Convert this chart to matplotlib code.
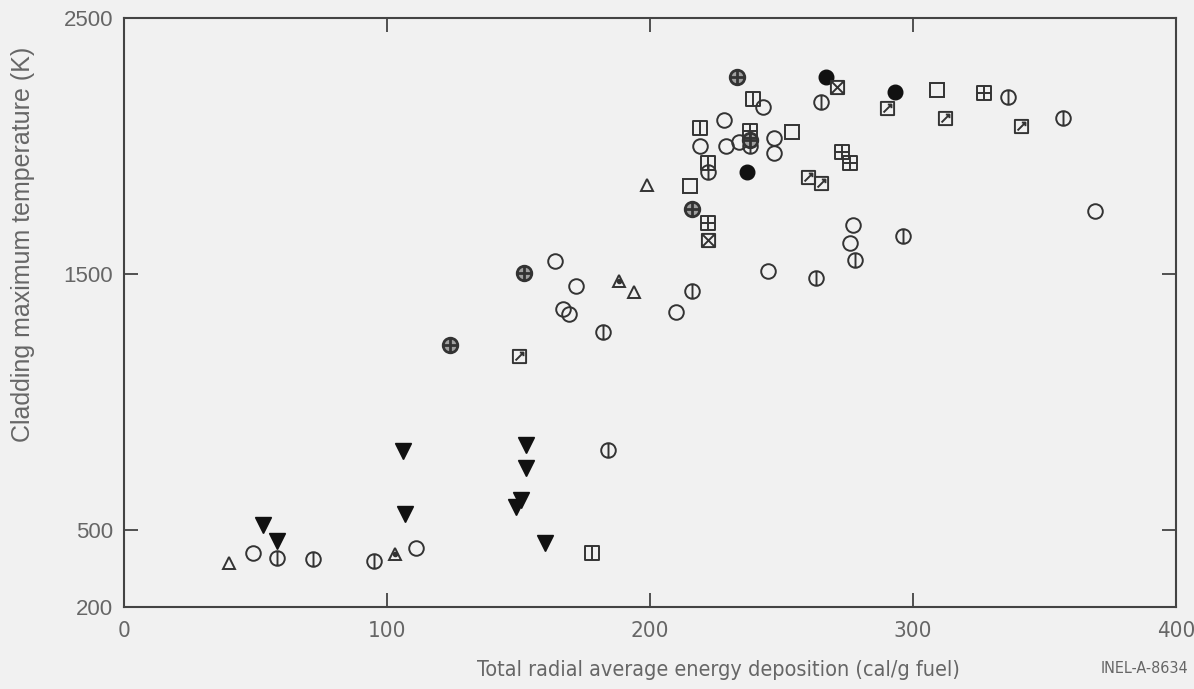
import matplotlib
matplotlib.use('Agg')
import matplotlib.pyplot as plt
from matplotlib.path import Path

# ------------------------------------------------------------
# data (cal/g fuel, K)
# ------------------------------------------------------------
open_circle_x = [49, 111, 164, 172, 167, 169, 210, 245, 276, 277, 369, 228, 229, 234, 219, 243, 247, 247]
open_circle_y = [410, 430, 1550, 1455, 1365, 1345, 1350, 1510, 1620, 1690, 1748, 2100, 2000, 2017, 2000, 2154, 2030, 1974]

vline_circle_x = [58, 72, 95, 184, 182, 216, 263, 278, 265, 222, 336, 357, 296, 238]
vline_circle_y = [390, 386, 381, 813, 1275, 1434, 1484, 1555, 2171, 1900, 2193, 2111, 1650, 2000]

plus_circle_x = [233, 216, 152, 124, 238]
plus_circle_y = [2271, 1754, 1503, 1223, 2024]

filled_circle_x = [267, 293, 237]
filled_circle_y = [2268, 2210, 1900]

open_square_x = [254, 215, 309]
open_square_y = [2056, 1845, 2219]

vline_square_x = [239, 219, 222, 178]
vline_square_y = [2183, 2069, 1933, 412]

plus_square_x = [273, 276, 222, 327, 238]
plus_square_y = [1978, 1933, 1698, 2206, 2059]

cross_square_x = [271, 222]
cross_square_y = [2232, 1633]

arrow_square_x = [290, 312, 341, 260, 265, 150]
arrow_square_y = [2150, 2111, 2078, 1880, 1857, 1180]

open_tri_x = [40, 194, 199]
open_tri_y = [371, 1431, 1848]

dot_tri_x = [103, 188]
dot_tri_y = [407, 1474]

down_tri_x = [53, 58, 106, 107, 153, 153, 151, 149, 160]
down_tri_y = [520, 459, 810, 563, 833, 744, 618, 589, 449]

x_ticks = [0, 100, 200, 300, 400]
y_ticks = [200, 500, 1500, 2500]

# ------------------------------------------------------------
# marker shapes
# ------------------------------------------------------------
M, L, C = Path.MOVETO, Path.LINETO, Path.CLOSEPOLY
circle = Path.unit_circle()
square = Path([(-1, -1), (1, -1), (1, 1), (-1, 1), (-1, -1)], [M, L, L, L, C])
vline = Path([(0, -1), (0, 1)], [M, L])
hline = Path([(-1, 0), (1, 0)], [M, L])
diag1 = Path([(-1, -1), (1, 1)], [M, L])
diag2 = Path([(-1, 1), (1, -1)], [M, L])
arrow = Path([(-0.6, -0.6), (0.6, 0.6), (0.05, 0.6), (0.6, 0.6), (0.6, 0.05)],
             [M, L, M, L, L])

m_vcircle = Path.make_compound_path(circle, vline)
m_pcircle = Path.make_compound_path(circle, vline, hline)
m_vsquare = Path.make_compound_path(square, vline)
m_psquare = Path.make_compound_path(square, vline, hline)
m_xsquare = Path.make_compound_path(square, diag1, diag2)
m_asquare = Path.make_compound_path(square, arrow)

ink = '#333333'
bg = '#f1f1f1'
txt = '#666666'
narrow = dict(family=['DejaVu Sans'], stretch='condensed')

fig = plt.figure(figsize=(11.94, 6.89), dpi=100, facecolor=bg)
ax = fig.add_axes([0.1039, 0.119, 0.8811, 0.855], facecolor=bg)

opts = dict(linestyle='none', color=ink, markeredgewidth=1.4, markerfacecolor='none')
ax.plot(open_circle_x, open_circle_y, marker='o', markersize=10.5, **opts)
ax.plot(vline_circle_x, vline_circle_y, marker=m_vcircle, markersize=10.5, **opts)
ax.plot(plus_circle_x, plus_circle_y, marker=m_pcircle, markersize=10.5,
        linestyle='none', color=ink, markeredgewidth=2.0, markerfacecolor='#a0a0a0')
ax.plot(filled_circle_x, filled_circle_y, marker='o', markersize=10.5,
        linestyle='none', color='#111111', markerfacecolor='#111111')
ax.plot(open_square_x, open_square_y, marker='s', markersize=9.5, **opts)
ax.plot(vline_square_x, vline_square_y, marker=m_vsquare, markersize=9.5, **opts)
ax.plot(plus_square_x, plus_square_y, marker=m_psquare, markersize=9.5, **opts)
ax.plot(cross_square_x, cross_square_y, marker=m_xsquare, markersize=9.5, **opts)
ax.plot(arrow_square_x, arrow_square_y, marker=m_asquare, markersize=9.5, **opts)
ax.plot(open_tri_x, open_tri_y, marker='^', markersize=9, **opts)
ax.plot(dot_tri_x, dot_tri_y, marker='^', markersize=9, **opts)
ax.plot(dot_tri_x, dot_tri_y, marker='o', markersize=3, linestyle='none', color=ink)
ax.plot(down_tri_x, down_tri_y, marker='v', markersize=11, linestyle='none',
        color='#111111', markerfacecolor='#111111')

ax.set_xlim(0, 400)
ax.set_ylim(200, 2500)
ax.set_xticks(x_ticks)
ax.set_yticks(y_ticks)
for s in ax.spines.values():
    s.set_color('#444444')
    s.set_linewidth(1.5)
ax.tick_params(direction='in', length=10, width=1.3, color='#444444',
               top=True, right=True, labelcolor=txt)
ax.tick_params(axis='y', labelsize=16, pad=8)
ax.tick_params(axis='x', labelsize=16, pad=10)
for lab in ax.get_xticklabels():
    lab.set_family(narrow['family'])
    lab.set_stretch('condensed')
for lab in ax.get_yticklabels():
    lab.set_family(['Liberation Sans', 'DejaVu Sans'])

ax.set_ylabel('Cladding maximum temperature (K)', fontsize=18, color=txt,
              family=['Liberation Sans', 'DejaVu Sans'])
ax.yaxis.set_label_coords(-0.085, 0.615)
ax.set_xlabel('Total radial average energy deposition (cal/g fuel)', fontsize=15.5,
              color=txt, **narrow)
ax.xaxis.set_label_coords(0.565, -0.09)
fig.text(0.995, 0.03, 'INEL-A-8634', fontsize=11.5, color=txt, ha='right', va='center',
         **narrow)

plt.savefig('out.png', dpi=100, facecolor=bg)
plt.close()
